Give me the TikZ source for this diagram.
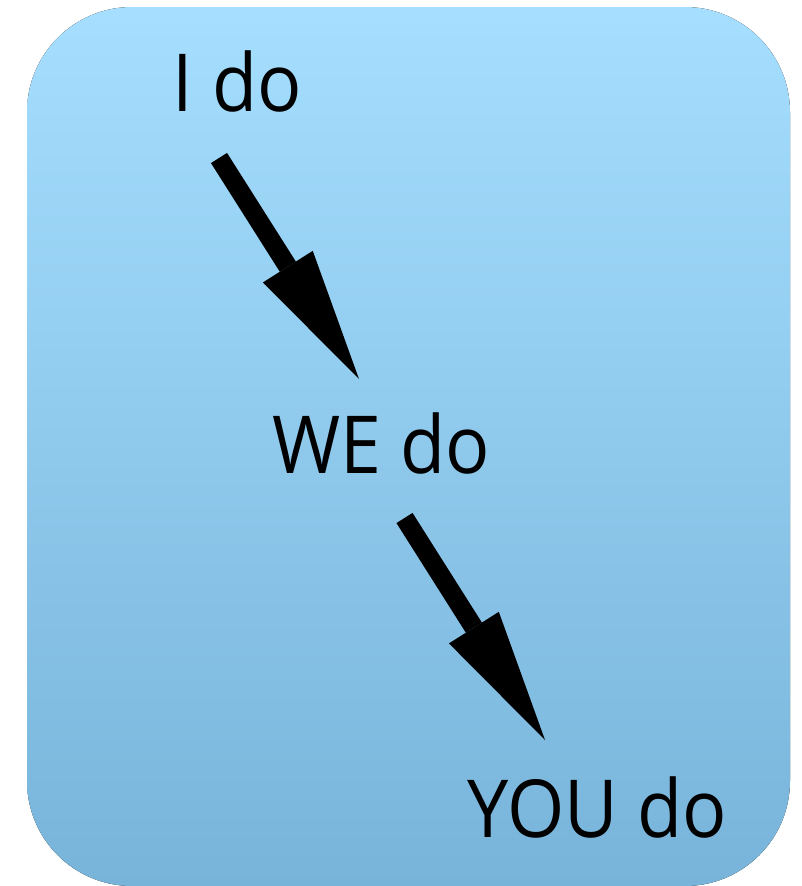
\documentclass[tikz,border=0pt]{standalone}
\usepackage{fontspec}
\setmainfont{Open Sans}
\newfontfamily\handfont[FakeStretch=0.92]{Open Sans}
\usetikzlibrary{arrows.meta}
\definecolor{topblue}{HTML}{A5DEFE}
\definecolor{botblue}{HTML}{78B4DA}
\begin{document}
\begin{tikzpicture}[x=1pt,y=-1pt,
  txt/.style={font=\handfont\fontsize{80}{80}\selectfont, inner sep=0pt, anchor=base},
  bigarrow/.style={line width=19pt, line join=miter,
    -{Triangle[length=133pt 0 0,width=59pt 0 0,line width=0pt]}}]
\useasboundingbox (0,0) rectangle (801,886);
\fill[top color=topblue,bottom color=botblue,rounded corners=105pt] (27,7) rectangle (790,886);
\node[txt] (ido) at (237,111) {I do};
\node[txt] (wedo) at (381,473) {WE do};
\node[txt] (youdo) at (597,837) {YOU do};
\coordinate (s1) at (219,158);
\coordinate (e1) at (359,379);
\coordinate (s2) at (404.5,518);
\coordinate (e2) at (545,740);
\draw[bigarrow] (s1) -- (e1);
\draw[bigarrow] (s2) -- (e2);
\end{tikzpicture}
\end{document}
